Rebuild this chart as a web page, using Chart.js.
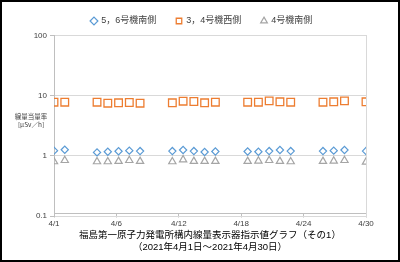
<!DOCTYPE html>
<html lang="ja">
<head>
    <meta charset="UTF-8">
    <title>福島第一原子力発電所構内線量表示器指示値グラフ（その1）</title>
    <script src="https://cdn.jsdelivr.net/npm/chart.js"></script>
    <style>
        body { margin: 0; background: #fff; }
        .frame { position: relative; width: 400px; height: 262px; }
        .frame canvas { position: absolute; left: 0; top: 0; }
        .border { position: absolute; left: 0; top: 0; width: 400px; height: 262px;
                  box-sizing: border-box; border: 2px solid #000; pointer-events: none; }
    </style>
</head>
<body>

    <div class="frame">
        <canvas id="doseChart" width="400" height="262"></canvas>
        <div class="border"></div>
    </div>

    <script>
        // measurement days in April 2021 (weekends / holidays skipped)
        var days = [1, 2, 5, 6, 7, 8, 9, 12, 13, 14, 15, 16, 19, 20, 21, 22, 23, 26, 27, 28, 30];

        // μSv/h
        var unit56South = [1.22, 1.26, 1.14, 1.17, 1.19, 1.22, 1.20, 1.20, 1.25, 1.20, 1.16,
                           1.18, 1.18, 1.17, 1.20, 1.25, 1.20, 1.20, 1.22, 1.25, 1.20];
        var unit34West  = [7.8, 7.8, 7.8, 7.5, 7.6, 7.7, 7.5, 7.6, 8.1, 8.0, 7.6,
                           7.8, 7.8, 7.8, 8.2, 7.9, 7.8, 7.8, 7.9, 8.2, 7.9];
        var unit4South  = [0.80, 0.84, 0.80, 0.80, 0.81, 0.84, 0.81, 0.80, 0.86, 0.81, 0.81,
                           0.81, 0.81, 0.82, 0.84, 0.81, 0.80, 0.81, 0.82, 0.84, 0.79];

        var seriesNames = ['5，6号機南側', '3，4号機西側', '4号機南側'];
        var tickLabels = ['4/1', '4/6', '4/12', '4/18', '4/24', '4/30'];
        var yTicks = [0.1, 1, 10, 100];
        var firstDay = 1, lastDay = 30;

        function points(values) {
            return days.map(function (d, i) { return { x: d, y: values[i] }; });
        }

        // small horizontal caption left of the y axis
        var yCaption = {
            id: 'yCaption',
            afterDraw: function (chart) {
                var ctx = chart.ctx;
                ctx.save();
                ctx.font = '6.5px "Noto Sans CJK JP", sans-serif';
                ctx.fillStyle = '#404040';
                ctx.textAlign = 'center';
                ctx.textBaseline = 'middle';
                ctx.fillText('線量当量率', 31, 117);
                ctx.fillText('[μSv／h]', 31, 125);
                ctx.restore();
            }
        };

        Chart.defaults.font.family = '"Liberation Sans", "Noto Sans CJK JP", sans-serif';
        Chart.defaults.color = '#404040';

        var ctx = document.getElementById('doseChart').getContext('2d');
        new Chart(ctx, {
            type: 'scatter',
            data: {
                datasets: [
                    {
                        label: seriesNames[0],
                        data: points(unit56South),
                        pointStyle: 'rectRot',
                        pointRadius: 3.6,
                        borderColor: '#5b9bd5',
                        backgroundColor: 'rgba(0,0,0,0)',
                        borderWidth: 1.2
                    },
                    {
                        label: seriesNames[1],
                        data: points(unit34West),
                        pointStyle: 'rect',
                        pointRadius: 5.4,
                        borderColor: '#ed7d31',
                        backgroundColor: 'rgba(0,0,0,0)',
                        borderWidth: 1.3
                    },
                    {
                        label: seriesNames[2],
                        data: points(unit4South),
                        pointStyle: 'triangle',
                        pointRadius: 4.2,
                        borderColor: '#a5a5a5',
                        backgroundColor: 'rgba(0,0,0,0)',
                        borderWidth: 1.2
                    }
                ]
            },
            options: {
                responsive: false,
                animation: false,
                devicePixelRatio: 1,
                layout: { padding: { left: 20, right: 16.5, top: -3.5, bottom: 0 } },
                plugins: {
                    tooltip: { enabled: false },
                    legend: {
                        position: 'top',
                        labels: {
                            usePointStyle: true,
                            boxWidth: 5.5,
                            boxHeight: 5.5,
                            padding: 20,
                            font: { size: 9 },
                            color: '#404040'
                        }
                    }
                },
                scales: {
                    x: {
                        type: 'linear',
                        min: firstDay,
                        max: lastDay,
                        afterBuildTicks: function (scale) {
                            var step = (lastDay - firstDay) / (tickLabels.length - 1);
                            scale.ticks = tickLabels.map(function (l, i) {
                                return { value: firstDay + i * step };
                            });
                        },
                        afterFit: function (scale) { scale.height = 46; },
                        ticks: {
                            autoSkip: false,
                            maxRotation: 0,
                            padding: 1,
                            font: { size: 8 },
                            callback: function (v, i) { return tickLabels[i]; }
                        },
                        grid: { drawOnChartArea: false, tickColor: '#bfbfbf', tickLength: 4 },
                        border: { color: '#bfbfbf' },
                        title: {
                            display: true,
                            text: ['福島第一原子力発電所構内線量表示器指示値グラフ（その1）',
                                   '（2021年4月1日～2021年4月30日）'],
                            font: { size: 9.5, lineHeight: 1.3 },
                            color: '#000',
                            padding: { top: 0, bottom: 6 }
                        }
                    },
                    // spacer above the plot, nudges the legend down a little
                    xTop: {
                        type: 'linear',
                        position: 'top',
                        afterFit: function (scale) { scale.height = -2.5; },
                        ticks: { display: false },
                        grid: { display: false },
                        border: { display: false }
                    },
                    y: {
                        type: 'logarithmic',
                        min: 0.1,
                        max: 100,
                        afterBuildTicks: function (scale) {
                            scale.ticks = yTicks.map(function (v) { return { value: v }; });
                        },
                        afterFit: function (scale) { scale.width = 34; },
                        ticks: {
                            padding: 3,
                            font: { size: 8 },
                            callback: function (v) { return String(v); }
                        },
                        grid: { color: '#d9d9d9', tickColor: '#bfbfbf', tickLength: 4 },
                        border: { color: '#bfbfbf' }
                    },
                    // right frame line of the plot area
                    yRight: {
                        type: 'linear',
                        position: 'right',
                        afterFit: function (scale) { scale.width = 17.5; },
                        ticks: { display: false },
                        grid: { display: false },
                        border: { color: '#d9d9d9' }
                    }
                }
            },
            plugins: [yCaption]
        });
    </script>

</body>
</html>
